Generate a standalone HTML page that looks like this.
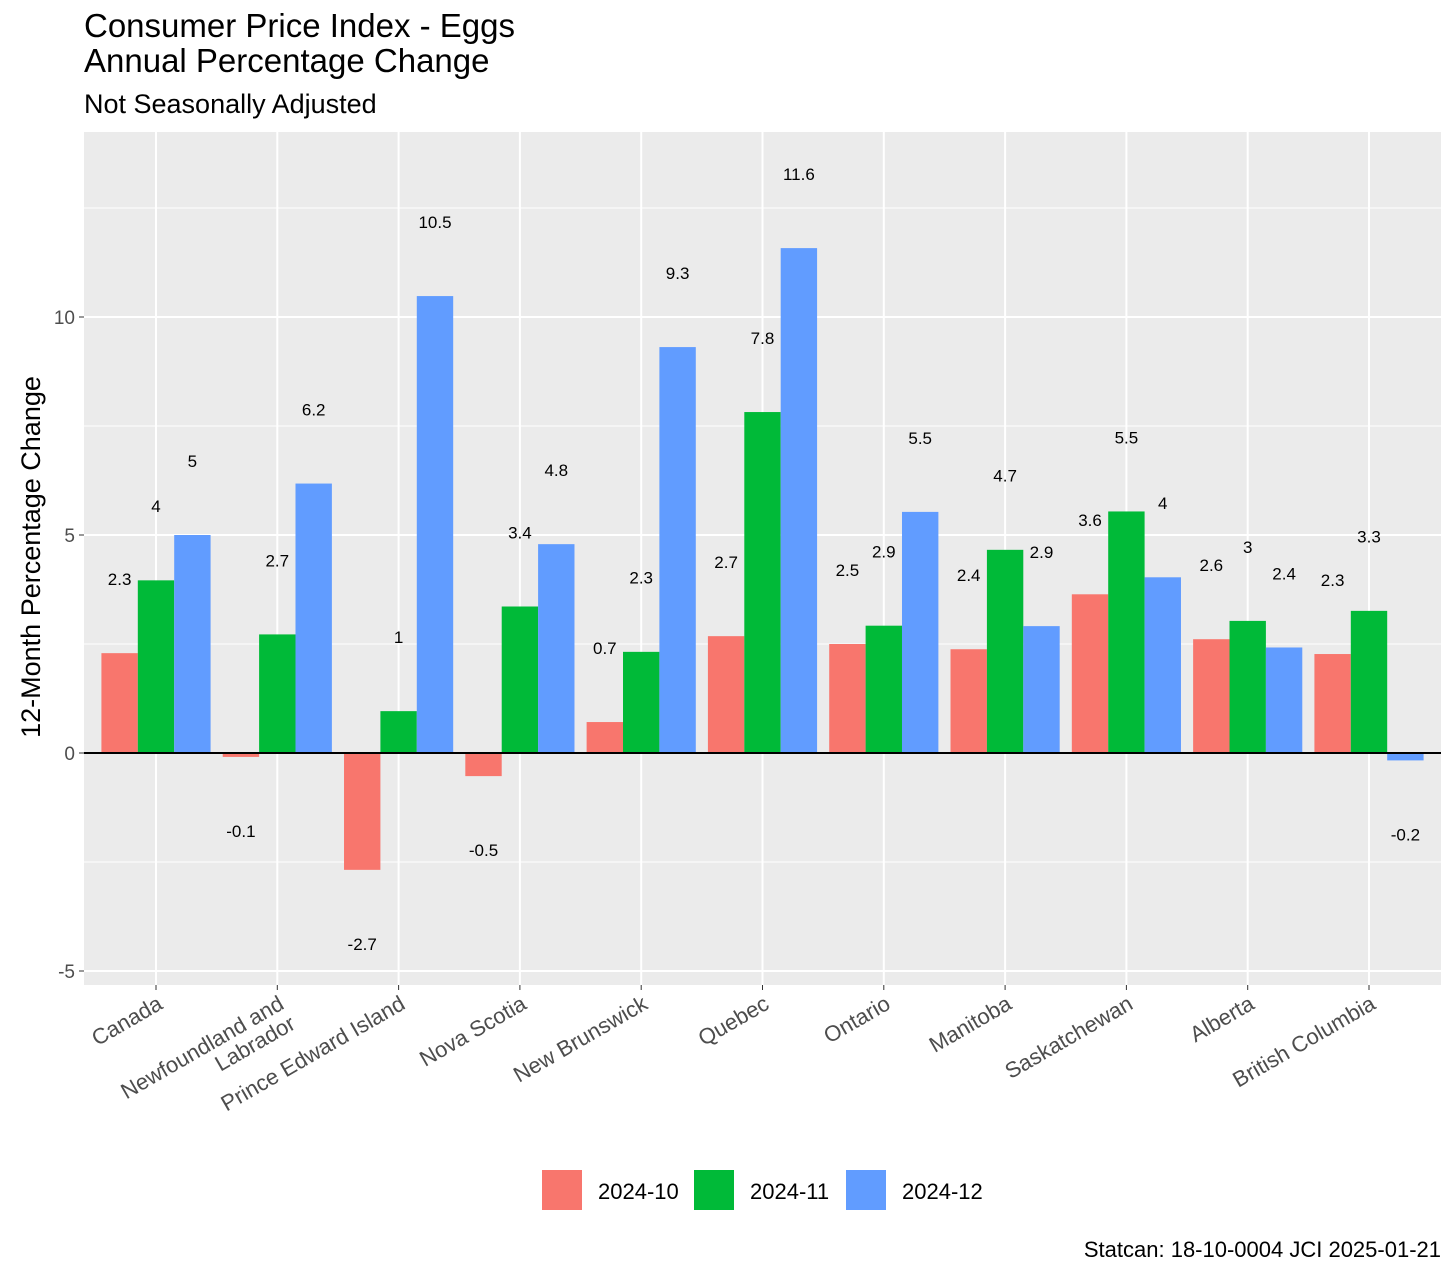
<!DOCTYPE html>
<html><head><meta charset="utf-8"><style>
body{margin:0;background:#fff;font-family:"Liberation Sans",Arial,sans-serif}
svg text{font-family:"Liberation Sans",Arial,sans-serif}
</style></head><body>
<svg id="c" width="1456" height="1274"></svg>
<script>
const categories=["Canada","Newfoundland and|Labrador","Prince Edward Island","Nova Scotia","New Brunswick","Quebec","Ontario","Manitoba","Saskatchewan","Alberta","British Columbia"];
const series=["2024-10","2024-11","2024-12"];
const colors=["#F8766D","#00BA38","#619CFF"];
const v2410=[2.29,-0.09,-2.68,-0.53,0.71,2.68,2.5,2.38,3.64,2.61,2.27];
const v2411=[3.96,2.72,0.96,3.36,2.32,7.82,2.92,4.66,5.54,3.03,3.26];
const v2412=[5.0,6.18,10.48,4.79,9.31,11.58,5.53,2.91,4.03,2.42,-0.17];
const yTicks=[-5,0,5,10];
const yMinor=[-2.5,2.5,7.5,12.5];
const caption="Statcan: 18-10-0004 JCI 2025-01-21";
const NS="http://www.w3.org/2000/svg";
const svg=document.getElementById('c');
const L=84,R=1441,T=132,B=985;
const y=v=>753-v*43.6;
const step=121.3;
const xc=i=>156+step*i;
function el(t,a,p){const e=document.createElementNS(NS,t);for(const k in a)e.setAttribute(k,a[k]);(p||svg).appendChild(e);return e;}
let r=el('rect',{x:L,y:T,width:R-L,height:B-T,fill:'#EBEBEB'});


yMinor.forEach(v=>{let l=el('line',{x1:L,x2:R,y1:y(v),y2:y(v),stroke:'#fff','stroke-width':1});

});
yTicks.forEach(v=>{let l=el('line',{x1:L,x2:R,y1:y(v),y2:y(v),stroke:'#fff','stroke-width':2});


let t=el('text',{x:75,y:y(v)+7,'text-anchor':'end','font-size':19,fill:'#4D4D4D'});t.textContent=v;


el('line',{x1:79,x2:L,y1:y(v),y2:y(v),stroke:'#333','stroke-width':1});});
categories.forEach((c,i)=>{el('line',{x1:xc(i),x2:xc(i),y1:T,y2:B,stroke:'#fff','stroke-width':2});
el('line',{x1:xc(i),x2:xc(i),y1:B,y2:B+5,stroke:'#333','stroke-width':1});
const g=el('g',{transform:`translate(${xc(i)},${B+9}) rotate(-30)`});


const lines=c.split('|');
lines.forEach((s,k)=>{let t=el('text',{x:0,y:16+k*23,'text-anchor':'end','font-size':22,fill:'#4D4D4D'},g);
t.textContent=s;});});
const data=[v2410,v2411,v2412];
const bw=step*0.9/3;
data.forEach((vals,s)=>vals.forEach((v,i)=>{
const x0=xc(i)-step*0.45+s*bw;
let b=el('rect',{x:x0,y:Math.min(y(v),y(0)),width:bw,height:Math.abs(y(v)-y(0)),fill:colors[s]});


const ly=v>=0?y(v+1.7):y(v-1.7);
let t=el('text',{x:x0+bw/2,y:ly+6,'text-anchor':'middle','font-size':17,fill:'#000'});
t.textContent=String(Math.round(v*10)/10);

}));
let z=el('line',{x1:L,x2:R,y1:y(0),y2:y(0),stroke:'#000','stroke-width':2});


function txt(x,yy,s,size,name,anchor){let t=el('text',{x:x,y:yy,'font-size':size,fill:'#000','text-anchor':anchor||'start'});t.textContent=s;

return t;}
txt(84,37,"Consumer Price Index - Eggs",33,'title-line-1');
txt(84,72,"Annual Percentage Change",33,'title-line-2');
txt(84,113,"Not Seasonally Adjusted",27,'subtitle');
let yt=txt(0,0,"12-Month Percentage Change",27,'y-axis-title','middle');
yt.setAttribute('transform','translate(40,557) rotate(-90)');
txt(1441,1257,caption,22,'caption','end');
const lx=[542,694,846];
series.forEach((s,k)=>{let b=el('rect',{x:lx[k],y:1170,width:40,height:40,fill:colors[k]});


txt(lx[k]+56,1199,s,22,'legend-label');});
</script>
</body></html>
